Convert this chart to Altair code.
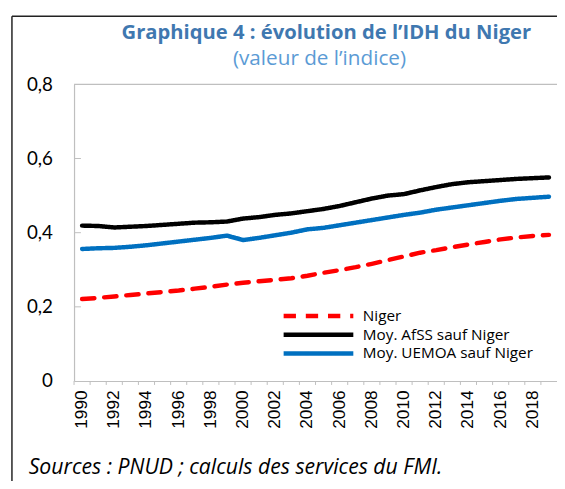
import altair as alt
import pandas as pd

years = list(range(1990, 2020))
niger = [0.221, 0.224, 0.228, 0.232, 0.236, 0.240, 0.244, 0.249, 0.254, 0.260,
         0.265, 0.269, 0.273, 0.277, 0.284, 0.292, 0.299, 0.307, 0.316, 0.326,
         0.336, 0.346, 0.353, 0.361, 0.368, 0.375, 0.382, 0.387, 0.391, 0.394]
afss = [0.419, 0.418, 0.414, 0.416, 0.418, 0.421, 0.424, 0.427, 0.428, 0.430,
        0.438, 0.442, 0.448, 0.452, 0.458, 0.464, 0.472, 0.482, 0.492, 0.500,
        0.504, 0.514, 0.523, 0.531, 0.536, 0.539, 0.542, 0.545, 0.547, 0.549]
uemoa = [0.356, 0.358, 0.359, 0.362, 0.366, 0.371, 0.376, 0.381, 0.386, 0.392,
         0.380, 0.386, 0.393, 0.400, 0.409, 0.413, 0.420, 0.427, 0.434, 0.441,
         0.448, 0.454, 0.462, 0.468, 0.474, 0.480, 0.486, 0.491, 0.494, 0.497]
series_names = ["Niger", "Moy. AfSS sauf Niger", "Moy. UEMOA sauf Niger"]
series_colors = ["#ff0000", "#000000", "#0070c0"]
y_ticks = [0, 0.2, 0.4, 0.6, 0.8]
inner_ticks = [0.2, 0.4, 0.6]
title_text = ["Graphique 4 : évolution de l’IDH du Niger"]
subtitle_text = ["(valeur de l’indice)"]
source_text = ["Sources : PNUD ; calculs des services du FMI."]

rows = []
for name, vals in zip(series_names, [niger, afss, uemoa]):
    for yr, v in zip(years, vals):
        rows.append({"year": yr, "value": v, "series": name})
df = pd.DataFrame(rows)

W, H = 490, 301
xscale = alt.Scale(type="band", paddingInner=0, paddingOuter=0)

leg = alt.Legend(orient="none", legendX=210, legendY=225.5, title=None,
                 symbolType="stroke", symbolSize=5000, symbolStrokeWidth=4.5,
                 clipHeight=19, rowPadding=0, labelLimit=300,
                 labelFont="Open Sans", labelFontSize=15.5, labelColor="black",
                 padding=0, labelOffset=7)

lines = alt.Chart(df).mark_line(strokeWidth=4.5, strokeCap="round").encode(
    x=alt.X("year:O", scale=xscale, title=None,
            axis=alt.Axis(labelAngle=270, labelFont="Liberation Sans", labelFontSize=17.5,
                          labelColor="black", labelPadding=9, ticks=False,
                          domainColor="#bfbfbf", domainWidth=1.2,
                          labelExpr="datum.value % 2 == 0 ? datum.label : ''")),
    y=alt.Y("value:Q", scale=alt.Scale(domain=[0, 0.8]), title=None,
            axis=alt.Axis(values=y_ticks, grid=False, ticks=False, labelPadding=22,
                          labelFont="Lato", labelFontSize=19, labelColor="black",
                          domainColor="#bfbfbf", domainWidth=1.2,
                          labelExpr="datum.value == 0 ? '0' : replace(format(datum.value, '.1f'), '.', ',')")),
    color=alt.Color("series:N", scale=alt.Scale(domain=series_names, range=series_colors), legend=leg),
    strokeDash=alt.StrokeDash("series:N", scale=alt.Scale(domain=series_names, range=[[12.5, 10], [1, 0], [1, 0]]), legend=leg),
    detail="series:N",
)

xtick_df = pd.DataFrame({"year": years})
xticks = alt.Chart(xtick_df).mark_rule(color="#bfbfbf", strokeWidth=1).encode(
    x=alt.X("year:O", bandPosition=0, scale=xscale),
    y=alt.value(H), y2=alt.value(H + 4),
)

ytick_df = pd.DataFrame({"v": inner_ticks})
yticks = alt.Chart(ytick_df).mark_rule(color="#bfbfbf", strokeWidth=1).encode(
    y="v:Q", x=alt.value(0), x2=alt.value(7),
)

one = pd.DataFrame({"k": [0]})
top_line = alt.Chart(one).mark_rule(color="#bfbfbf", strokeWidth=1.2).encode(
    y=alt.value(0), x=alt.value(0), x2=alt.value(W))
frame_left = alt.Chart(one).mark_rule(color="#222222", strokeWidth=1.5).encode(
    x=alt.value(-63), y=alt.value(-69), y2=alt.value(420))
frame_top = alt.Chart(one).mark_rule(color="#222222", strokeWidth=1.5).encode(
    y=alt.value(-69), x=alt.value(-63), x2=alt.value(520))

title = alt.Chart(pd.DataFrame({"t": title_text})).mark_text(
    font="Open Sans", fontSize=20.5, fontWeight="bold", color="#3f78b0", align="center", baseline="alphabetic"
).encode(text="t:N", x=alt.value(256), y=alt.value(-46))
subtitle = alt.Chart(pd.DataFrame({"t": subtitle_text})).mark_text(
    font="Open Sans", fontSize=21, color="#5b9bd5", align="center", baseline="alphabetic"
).encode(text="t:N", x=alt.value(249), y=alt.value(-20))
source = alt.Chart(pd.DataFrame({"t": source_text})).mark_text(
    font="Open Sans", fontSize=21.5, fontStyle="italic", color="black", align="left", baseline="alphabetic"
).encode(text="t:N", x=alt.value(-46), y=alt.value(395))

chart = alt.layer(frame_left, frame_top, top_line, xticks, yticks, lines, title, subtitle, source).properties(
    width=W, height=H,
    autosize=alt.AutoSizeParams(type="none"),
    padding={"left": 67, "top": 74, "right": 0, "bottom": 98},
).configure_view(stroke=None)

chart.save("out.html", embed_options={"renderer": "svg", "actions": False})
